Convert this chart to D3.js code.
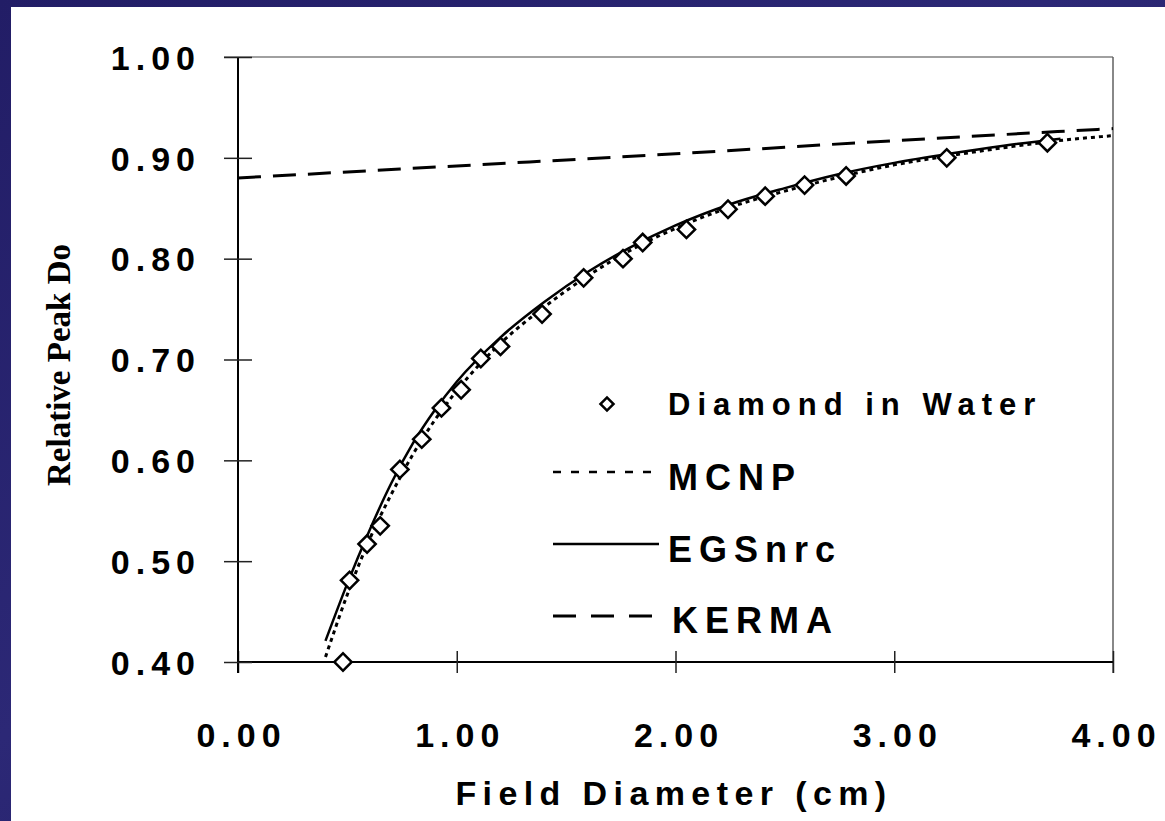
<!DOCTYPE html>
<html>
<head>
<meta charset="utf-8">
<script src="https://cdn.jsdelivr.net/npm/d3@7"></script>
<style>
  body { margin: 0; background: #1f1b5e; }
  svg { display: block; }
</style>
</head>
<body>
<div class="canvas"></div>
<script>
const canvasWidth = 1165;
const canvasHeight = 821;

// measured points (diamond detector in water)
const diamondX = [0.48, 0.51, 0.59, 0.65, 0.74, 0.84, 0.93, 1.02, 1.11, 1.20, 1.39, 1.58, 1.76, 1.85, 2.05, 2.24, 2.41, 2.59, 2.78, 3.24, 3.70];
const diamondY = [0.400, 0.481, 0.517, 0.535, 0.591, 0.621, 0.652, 0.670, 0.701, 0.713, 0.745, 0.781, 0.800, 0.816, 0.829, 0.849, 0.862, 0.873, 0.882, 0.900, 0.915];

// MCNP (dotted)
const mcnpX = [0.40, 0.50, 0.60, 0.70, 0.80, 0.90, 1.00, 1.20, 1.40, 1.60, 1.80, 2.00, 2.25, 2.50, 2.75, 3.00, 3.25, 3.50, 3.75, 4.00];
const mcnpY = [0.405, 0.467, 0.521, 0.566, 0.606, 0.640, 0.669, 0.716, 0.752, 0.783, 0.809, 0.830, 0.851, 0.867, 0.881, 0.893, 0.902, 0.910, 0.917, 0.922];

// EGSnrc (solid)
const egsX = [0.40, 0.50, 0.60, 0.70, 0.80, 0.90, 1.00, 1.20, 1.40, 1.60, 1.80, 2.00, 2.25, 2.50, 2.75, 3.00, 3.25, 3.50, 3.76];
const egsY = [0.421, 0.478, 0.530, 0.577, 0.617, 0.650, 0.678, 0.722, 0.757, 0.787, 0.812, 0.833, 0.854, 0.870, 0.884, 0.895, 0.904, 0.912, 0.919];

// KERMA (dashed)
const kermaX = [0.00, 1.00, 2.00, 3.00, 4.00];
const kermaY = [0.880, 0.892, 0.904, 0.917, 0.929];

const xTicks = [0, 1, 2, 3, 4];
const yTicks = [0.4, 0.5, 0.6, 0.7, 0.8, 0.9, 1.0];

const legendLabels = ['Diamond in Water', 'MCNP', 'EGSnrc', 'KERMA'];

const plot = { left: 238, right: 1113, top: 57, bottom: 662 };

const svg = d3.select('.canvas')
	.append('svg')
	.attr('width', canvasWidth)
	.attr('height', canvasHeight);

// slide background
const grad = svg.append('defs').append('linearGradient')
	.attr('id', 'bg')
	.attr('x1', 0).attr('y1', 0).attr('x2', 1).attr('y2', 1);
grad.append('stop').attr('offset', '0%').attr('stop-color', '#221d66');
grad.append('stop').attr('offset', '45%').attr('stop-color', '#2c2876');
grad.append('stop').attr('offset', '100%').attr('stop-color', '#1c185a');

svg.append('rect')
	.attr('width', canvasWidth)
	.attr('height', canvasHeight)
	.attr('fill', 'url(#bg)');

svg.append('rect')
	.attr('x', 11)
	.attr('y', 7)
	.attr('width', canvasWidth - 11)
	.attr('height', canvasHeight - 7)
	.attr('fill', '#ffffff');

const x = d3.scaleLinear()
	.domain([0, 4])
	.range([plot.left, plot.right]);

const y = d3.scaleLinear()
	.domain([0.4, 1.0])
	.range([plot.bottom, plot.top]);

// frame (top and right in grey)
svg.append('line')
	.attr('x1', plot.left - 14).attr('x2', plot.right)
	.attr('y1', plot.top).attr('y2', plot.top)
	.attr('stroke', '#808080').attr('stroke-width', 1.5);
svg.append('line')
	.attr('x1', plot.right).attr('x2', plot.right)
	.attr('y1', plot.top).attr('y2', plot.bottom + 11)
	.attr('stroke', '#606060').attr('stroke-width', 1.5);

const xAxis = d3.axisBottom(x)
	.tickValues(xTicks)
	.tickSize(11)
	.tickFormat(d3.format('.2f'));

const yAxis = d3.axisLeft(y)
	.tickValues(yTicks)
	.tickSize(14)
	.tickFormat(d3.format('.2f'));

const xAxisGroup = svg.append('g')
	.attr('transform', `translate(0,${plot.bottom})`)
	.call(xAxis);

const yAxisGroup = svg.append('g')
	.attr('transform', `translate(${plot.left},0)`)
	.call(yAxis);

[xAxisGroup, yAxisGroup].forEach(g => {
	g.select('.domain').attr('stroke', '#000').attr('stroke-width', 2);
	g.selectAll('.tick line').attr('stroke', '#222').attr('stroke-width', 1.5);
	g.selectAll('text')
		.attr('fill', '#000')
		.attr('font-family', 'Liberation Sans, Arial, sans-serif')
		.attr('font-weight', 'bold')
		.attr('font-size', 34)
		.style('letter-spacing', '6px');
});

xAxisGroup.select('.domain').attr('d', `M${plot.left},0H${plot.right}`);
xAxisGroup.selectAll('.tick line').attr('y1', -11).attr('y2', 11);
xAxisGroup.selectAll('text')
	.attr('y', 0)
	.attr('dy', 0)
	.attr('transform', 'translate(3,85)');

yAxisGroup.select('.domain').attr('d', `M0,${plot.top}V${plot.bottom + 11}`);
yAxisGroup.selectAll('.tick line').attr('x1', -14).attr('x2', 14);
yAxisGroup.selectAll('text')
	.attr('x', -37)
	.attr('dy', '0.36em');

// axis titles
svg.append('text')
	.attr('x', 674)
	.attr('y', 805)
	.attr('text-anchor', 'middle')
	.attr('font-family', 'Liberation Sans, Arial, sans-serif')
	.attr('font-weight', 'bold')
	.attr('font-size', 34)
	.style('letter-spacing', '6.4px')
	.text('Field Diameter (cm)');

svg.append('text')
	.attr('transform', 'translate(70,365) rotate(-90)')
	.attr('text-anchor', 'middle')
	.attr('font-family', 'Liberation Serif, Times New Roman, serif')
	.attr('font-weight', 'bold')
	.attr('font-size', 33)
	.text('Relative Peak Do');

// curves
const line = d3.line()
	.x(d => x(d[0]))
	.y(d => y(d[1]))
	.curve(d3.curveMonotoneX);

const kermaData = kermaX.map((v, i) => [v, kermaY[i]]);
const egsData = egsX.map((v, i) => [v, egsY[i]]);
const mcnpData = mcnpX.map((v, i) => [v, mcnpY[i]]);
const diamondData = diamondX.map((v, i) => [v, diamondY[i]]);

svg.append('path')
	.attr('d', line(kermaData))
	.attr('fill', 'none')
	.attr('stroke', '#000')
	.attr('stroke-width', 3)
	.attr('stroke-dasharray', '23,12');

svg.append('path')
	.attr('d', line(mcnpData))
	.attr('fill', 'none')
	.attr('stroke', '#000')
	.attr('stroke-width', 3)
	.attr('stroke-dasharray', '4,4');

svg.append('path')
	.attr('d', line(egsData))
	.attr('fill', 'none')
	.attr('stroke', '#000')
	.attr('stroke-width', 2.5);

const diamond = d3.symbol().type(d3.symbolSquare).size(150);

svg.append('g')
	.selectAll('path')
	.data(diamondData)
	.enter()
	.append('path')
	.attr('d', diamond)
	.attr('transform', d => `translate(${x(d[0])},${y(d[1])}) rotate(45)`)
	.attr('fill', '#fff')
	.attr('stroke', '#000')
	.attr('stroke-width', 2.5);

// legend
const legend = svg.append('g');
const legendRows = [
	{ cy: 404, base: 415, size: 31 },
	{ cy: 472, base: 490, size: 36 },
	{ cy: 544, base: 562, size: 36 },
	{ cy: 616, base: 633, size: 36 }
];

legend.append('path')
	.attr('d', d3.symbol().type(d3.symbolSquare).size(85)())
	.attr('transform', `translate(607,${legendRows[0].cy}) rotate(45)`)
	.attr('fill', '#fff')
	.attr('stroke', '#000')
	.attr('stroke-width', 2.5);

legend.append('line')
	.attr('x1', 553).attr('x2', 659)
	.attr('y1', legendRows[1].cy).attr('y2', legendRows[1].cy)
	.attr('stroke', '#000').attr('stroke-width', 2.5)
	.attr('stroke-dasharray', '8,10');

legend.append('line')
	.attr('x1', 553).attr('x2', 659)
	.attr('y1', legendRows[2].cy).attr('y2', legendRows[2].cy)
	.attr('stroke', '#000').attr('stroke-width', 2.5);

legend.append('line')
	.attr('x1', 553).attr('x2', 652)
	.attr('y1', legendRows[3].cy).attr('y2', legendRows[3].cy)
	.attr('stroke', '#000').attr('stroke-width', 3)
	.attr('stroke-dasharray', '23,15');

legend.selectAll('text')
	.data(legendLabels)
	.enter()
	.append('text')
	.attr('x', (d, i) => i === 3 ? 672 : 668)
	.attr('y', (d, i) => legendRows[i].base)
	.attr('font-family', 'Liberation Sans, Arial, sans-serif')
	.attr('font-weight', 'bold')
	.attr('font-size', (d, i) => legendRows[i].size)
	.style('letter-spacing', '7px')
	.text(d => d);
</script>
</body>
</html>
